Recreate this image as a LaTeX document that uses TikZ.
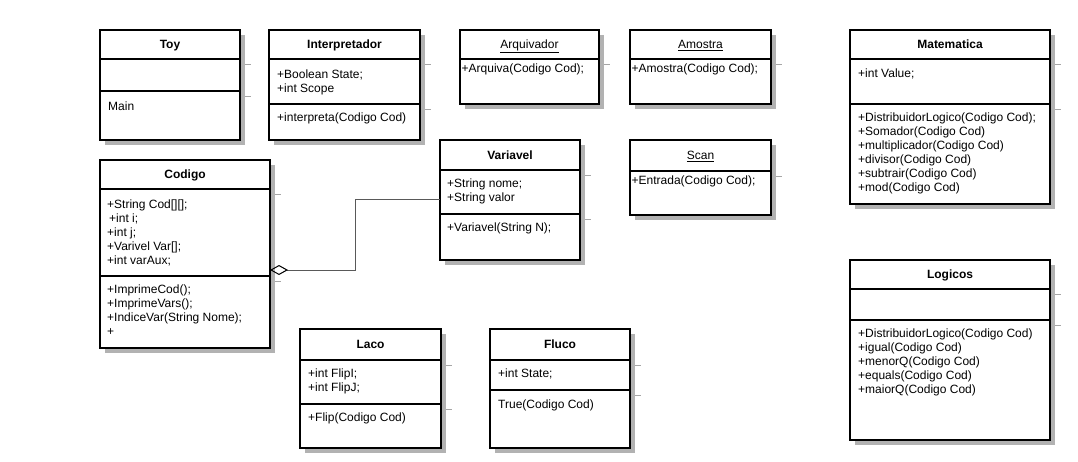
\documentclass[tikz,border=0pt]{standalone}
\usepackage{fontspec}
\setmainfont{Liberation Sans}
\usetikzlibrary{positioning,backgrounds,arrows.meta}

\tikzset{
  part/.style={draw, line width=1.5pt, fill=white, inner sep=0pt, outer sep=0pt,
    minimum width=#1, font=\fontsize{12pt}{14pt}\selectfont,
    text height=8.6pt, text depth=0pt},
  title/.style={font=\fontsize{12pt}{14pt}\selectfont\bfseries},
  members/.style={anchor=north west, inner sep=0pt, align=left, yshift=-1pt,
    font=\fontsize{12pt}{14pt}\selectfont},
  boxshadow/.style={fill=black!30},
  divtick/.style={draw=black!35, line width=0.8pt},
  aggr/.style={draw=black!65, line width=1pt, {Diamond[open, length=18pt, width=10pt, black]}-},
}

\begin{document}
\begin{tikzpicture}[x=1pt, y=-1pt]
    \useasboundingbox (0,0) rectangle (1078,462);

    % Toy
    \node[part=140pt, title, minimum height=29pt, anchor=north west] (toy) at (100,30) {Toy};
    \node[part=140pt, minimum height=32pt, below=0pt of toy] (toy-attr) {};
    \node[part=140pt, minimum height=49pt, below=0pt of toy-attr] (toy-ops) {};
    \node[members] (toy-m) at ([shift={(8pt,-10pt)}]toy-ops.north west) {Main};

    % Interpretador
    \node[part=151pt, title, minimum height=29pt, anchor=north west] (interp) at (269,30) {Interpretador};
    \node[part=151pt, minimum height=45pt, below=0pt of interp] (interp-attr) {};
    \node[part=151pt, minimum height=36pt, below=0pt of interp-attr] (interp-ops) {};
    \node[members] (interp-a) at ([shift={(8pt,-10pt)}]interp-attr.north west) {+Boolean State;\\+int Scope};
    \node[members] (interp-m) at ([shift={(8pt,-8pt)}]interp-ops.north west) {+interpreta(Codigo Cod)};

    % Arquivador
    \node[part=139pt, minimum height=29pt, anchor=north west] (arq) at (460,30) {\underline{Arquivador}};
    \node[part=139pt, minimum height=45pt, below=0pt of arq] (arq-ops) {};
    \node[members] (arq-m) at ([shift={(1.5pt,-4pt)}]arq-ops.north west) {+Arquiva(Codigo Cod);};

    % Amostra
    \node[part=141pt, minimum height=29pt, anchor=north west] (amostra) at (630,30) {\underline{Amostra}};
    \node[part=141pt, minimum height=45pt, below=0pt of amostra] (amostra-ops) {};
    \node[members] (amostra-m) at ([shift={(1.5pt,-4pt)}]amostra-ops.north west) {+Amostra(Codigo Cod);};

    % Matematica
    \node[part=200pt, title, minimum height=29pt, anchor=north west] (mat) at (850,30) {Matematica};
    \node[part=200pt, minimum height=45pt, below=0pt of mat] (mat-attr) {};
    \node[part=200pt, minimum height=100pt, below=0pt of mat-attr] (mat-ops) {};
    \node[members] (mat-a) at ([shift={(8pt,-9pt)}]mat-attr.north west) {+int Value;};
    \node[members] (mat-m) at ([shift={(8pt,-8pt)}]mat-ops.north west)
        {+DistribuidorLogico(Codigo Cod);\\+Somador(Codigo Cod)\\+multiplicador(Codigo Cod)\\
         +divisor(Codigo Cod)\\+subtrair(Codigo Cod)\\+mod(Codigo Cod)};

    % Codigo
    \node[part=170pt, title, minimum height=29pt, anchor=north west] (cod) at (100,160) {Codigo};
    \node[part=170pt, minimum height=87pt, below=0pt of cod] (cod-attr) {};
    \node[part=170pt, minimum height=72pt, below=0pt of cod-attr] (cod-ops) {};
    \node[members] (cod-a) at ([shift={(7pt,-10pt)}]cod-attr.north west)
        {+String Cod[][];\\\hspace*{2pt}+int i;\\+int j;\\+Varivel Var[];\\+int varAux;};
    \node[members] (cod-m) at ([shift={(7pt,-8pt)}]cod-ops.north west)
        {+ImprimeCod();\\+ImprimeVars();\\+IndiceVar(String Nome);\\+};

    % Variavel
    \node[part=140pt, title, minimum height=30pt, anchor=north west] (var) at (440,140) {Variavel};
    \node[part=140pt, minimum height=44pt, below=0pt of var] (var-attr) {};
    \node[part=140pt, minimum height=46pt, below=0pt of var-attr] (var-ops) {};
    \node[members] (var-a) at ([shift={(7pt,-8pt)}]var-attr.north west) {+String nome;\\+String valor};
    \node[members] (var-m) at ([shift={(7pt,-8pt)}]var-ops.north west) {+Variavel(String N);};

    % Scan
    \node[part=141pt, minimum height=31pt, anchor=north west] (scan) at (630,140) {\underline{Scan}};
    \node[part=141pt, minimum height=44pt, below=0pt of scan] (scan-ops) {};
    \node[members] (scan-m) at ([shift={(1.5pt,-4pt)}]scan-ops.north west) {+Entrada(Codigo Cod);};

    % Laco
    \node[part=141pt, title, minimum height=31pt, anchor=north west] (laco) at (300,329) {Laco};
    \node[part=141pt, minimum height=44pt, below=0pt of laco] (laco-attr) {};
    \node[part=141pt, minimum height=44pt, below=0pt of laco-attr] (laco-ops) {};
    \node[members] (laco-a) at ([shift={(8pt,-8pt)}]laco-attr.north west) {+int FlipI;\\+int FlipJ;};
    \node[members] (laco-m) at ([shift={(8pt,-8pt)}]laco-ops.north west) {+Flip(Codigo Cod)};

    % Fluco
    \node[part=140pt, title, minimum height=31pt, anchor=north west] (fluco) at (490,329) {Fluco};
    \node[part=140pt, minimum height=30pt, below=0pt of fluco] (fluco-attr) {};
    \node[part=140pt, minimum height=58pt, below=0pt of fluco-attr] (fluco-ops) {};
    \node[members] (fluco-a) at ([shift={(8pt,-8pt)}]fluco-attr.north west) {+int State;};
    \node[members] (fluco-m) at ([shift={(8pt,-9pt)}]fluco-ops.north west) {True(Codigo Cod)};

    % Logicos
    \node[part=200pt, title, minimum height=29pt, anchor=north west] (log) at (850,260) {Logicos};
    \node[part=200pt, minimum height=31pt, below=0pt of log] (log-attr) {};
    \node[part=200pt, minimum height=120pt, below=0pt of log-attr] (log-ops) {};
    \node[members] (log-m) at ([shift={(8pt,-8pt)}]log-ops.north west)
        {+DistribuidorLogico(Codigo Cod)\\+igual(Codigo Cod)\\+menorQ(Codigo Cod)\\
         +equals(Codigo Cod)\\+maiorQ(Codigo Cod)};

    % shadows behind the classes
    \begin{scope}[on background layer]
        \foreach \a/\b in {toy/toy-ops,interp/interp-ops,arq/arq-ops,amostra/amostra-ops,
                           mat/mat-ops,cod/cod-ops,var/var-ops,scan/scan-ops,
                           laco/laco-ops,fluco/fluco-ops,log/log-ops} {
            \fill[boxshadow] ([shift={(5pt,-5pt)}]\a.north west) rectangle ([shift={(5pt,-5pt)}]\b.south east);
        }
    \end{scope}

    % little shadow ticks next to the dividers
    \foreach \n in {toy,toy-attr,interp,interp-attr,arq,amostra,mat,mat-attr,
                    cod,cod-attr,var,var-attr,scan,laco,laco-attr,fluco,fluco-attr,log,log-attr} {
        \draw[divtick] ([shift={(5pt,-5pt)}]\n.south east) -- ++(6,0);
    }

    % Codigo <>-- Variavel
    \coordinate (cod-end) at ([yshift=6pt]cod-attr.south east);
    \coordinate (var-end) at ([yshift=-8pt]var-attr.west);
    \draw[aggr] (cod-end) -- ++(85,0) |- (var-end);
\end{tikzpicture}
\end{document}
